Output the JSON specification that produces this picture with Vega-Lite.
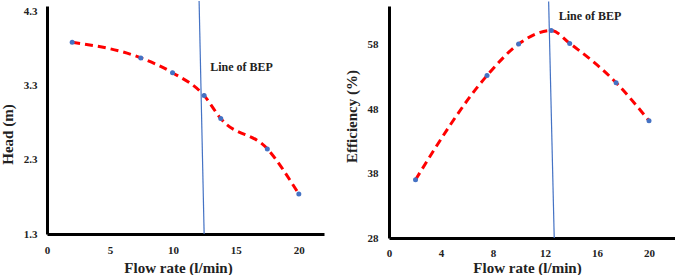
{
  "$schema": "https://vega.github.io/schema/vega-lite/v6.json",
  "padding": {"left": 0, "top": 0, "right": 0, "bottom": 0},
  "spacing": 20,
  "config": {
    "font": "Liberation Serif",
    "view": {"stroke": null},
    "axis": {
      "grid": false,
      "domain": true,
      "domainColor": "#000000",
      "domainWidth": 3,
      "ticks": false,
      "labelFlush": false,
      "labelOverlap": false,
      "labelFont": "Liberation Serif",
      "labelFontWeight": "bold",
      "labelFontSize": 11,
      "labelColor": "#222222",
      "titleFont": "Liberation Serif",
      "titleFontWeight": "bold",
      "titleFontSize": 15,
      "titleColor": "#222222"
    }
  },
  "datasets": {
    "head": [
      {"flow": 2, "value": 3.89},
      {"flow": 7.45, "value": 3.68},
      {"flow": 9.97, "value": 3.48},
      {"flow": 12.48, "value": 3.17},
      {"flow": 13.8, "value": 2.86},
      {"flow": 17.5, "value": 2.45},
      {"flow": 20, "value": 1.84}
    ],
    "eff": [
      {"flow": 2.04, "value": 37.05},
      {"flow": 7.54, "value": 53.2},
      {"flow": 9.97, "value": 58.1},
      {"flow": 12.48, "value": 60.2},
      {"flow": 13.9, "value": 58.2},
      {"flow": 17.47, "value": 52.1},
      {"flow": 20, "value": 46.2}
    ],
    "bepHead": [{"x": 12.48, "y": 1.3, "x2": 12.08, "y2": 4.45, "label": "Line of BEP", "lx": 12.96, "ly": 3.56}],
    "bepEff": [{"x": 12.71, "y": 28, "x2": 12.28, "y2": 64.7, "label": "Line of BEP", "lx": 13.05, "ly": 62.5}]
  },
  "hconcat": [
    {
      "width": 277,
      "height": 228,
      "layer": [
        {
          "data": {"name": "head"},
          "mark": {"type": "line", "color": "#FF0000", "strokeWidth": 3, "strokeDash": [8, 5], "interpolate": "monotone"},
          "encoding": {
            "x": {"field": "flow", "type": "quantitative", "scale": {"domain": [0, 22], "nice": false}, "axis": {"values": [0, 5, 10, 15, 20], "title": "Flow rate (l/min)", "labelPadding": 10, "titlePadding": 5, "titleX": 131}},
            "y": {"field": "value", "type": "quantitative", "scale": {"domain": [1.3, 4.381], "nice": false, "zero": false}, "axis": {"values": [1.3, 2.3, 3.3, 4.3], "format": ".1f", "title": "Head (m)", "labelPadding": 10, "titlePadding": 8, "titleY": 128}}
          }
        },
        {
          "data": {"name": "bepHead"},
          "mark": {"type": "rule", "color": "#4472C4", "strokeWidth": 1.2},
          "encoding": {
            "x": {"field": "x", "type": "quantitative"},
            "y": {"field": "y", "type": "quantitative"},
            "x2": {"field": "x2"},
            "y2": {"field": "y2"}
          }
        },
        {
          "data": {"name": "head"},
          "mark": {"type": "point", "filled": true, "color": "#4472C4", "size": 25, "opacity": 1},
          "encoding": {
            "x": {"field": "flow", "type": "quantitative"},
            "y": {"field": "value", "type": "quantitative"}
          }
        },
        {
          "data": {"name": "bepHead"},
          "mark": {"type": "text", "align": "left", "baseline": "middle", "fontWeight": "bold", "fontSize": 12, "color": "#222222"},
          "encoding": {
            "x": {"field": "lx", "type": "quantitative"},
            "y": {"field": "ly", "type": "quantitative"},
            "text": {"field": "label"}
          }
        }
      ]
    },
    {
      "width": 286,
      "height": 232,
      "layer": [
        {
          "data": {"name": "eff"},
          "mark": {"type": "line", "color": "#FF0000", "strokeWidth": 3, "strokeDash": [8, 5], "interpolate": "monotone"},
          "encoding": {
            "x": {"field": "flow", "type": "quantitative", "scale": {"domain": [0, 22], "nice": false}, "axis": {"values": [0, 4, 8, 12, 16, 20], "title": "Flow rate (l/min)", "labelPadding": 9, "titlePadding": 2, "titleX": 138}},
            "y": {"field": "value", "type": "quantitative", "scale": {"domain": [28, 64], "nice": false, "zero": false}, "axis": {"values": [28, 38, 48, 58], "title": "Efficiency (%)", "labelPadding": 11, "titlePadding": 8, "titleY": 110}}
          }
        },
        {
          "data": {"name": "bepEff"},
          "mark": {"type": "rule", "color": "#4472C4", "strokeWidth": 1.2},
          "encoding": {
            "x": {"field": "x", "type": "quantitative"},
            "y": {"field": "y", "type": "quantitative"},
            "x2": {"field": "x2"},
            "y2": {"field": "y2"}
          }
        },
        {
          "data": {"name": "eff"},
          "mark": {"type": "point", "filled": true, "color": "#4472C4", "size": 25, "opacity": 1},
          "encoding": {
            "x": {"field": "flow", "type": "quantitative"},
            "y": {"field": "value", "type": "quantitative"}
          }
        },
        {
          "data": {"name": "bepEff"},
          "mark": {"type": "text", "align": "left", "baseline": "middle", "fontWeight": "bold", "fontSize": 12, "color": "#222222"},
          "encoding": {
            "x": {"field": "lx", "type": "quantitative"},
            "y": {"field": "ly", "type": "quantitative"},
            "text": {"field": "label"}
          }
        }
      ]
    }
  ]
}
